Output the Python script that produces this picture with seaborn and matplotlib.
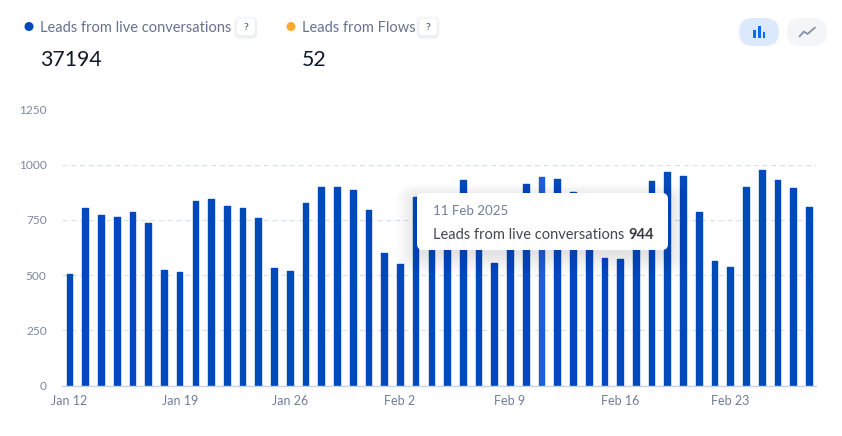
import matplotlib
matplotlib.use("Agg")
import matplotlib.pyplot as plt
import seaborn as sns
import pandas as pd
from matplotlib.patches import FancyBboxPatch, Circle, Rectangle

days = pd.date_range("2025-01-12", "2025-02-28").strftime("%b %-d").tolist()
live_leads = [505, 804, 772, 763, 786, 736, 523, 514, 835, 845, 813, 804,
              759, 532, 519, 827, 899, 899, 885, 795, 600, 550, 854, 865,
              850, 930, 780, 555, 760, 912, 944, 935, 876, 800, 577, 572,
              790, 926, 967, 949, 786, 564, 537, 899, 975, 931, 894, 808]
highlight_day = "Feb 11"
y_ticks = [0, 250, 500, 750, 1000, 1250]
x_tick_labels = ["Jan 12", "Jan 19", "Jan 26", "Feb 2", "Feb 9", "Feb 16", "Feb 23"]
summary_titles = ["Leads from live conversations", "Leads from Flows"]
summary_values = ["37194", "52"]
tooltip_date = "11 Feb 2025"
tooltip_label = "Leads from live conversations"
tooltip_value = "944"

sns.set_theme(style="white")
plt.rcParams["font.family"] = ["Lato", "DejaVu Sans"]

W, H = 842, 436
fig = plt.figure(figsize=(W / 100, H / 100), dpi=100, facecolor="white")
ax = fig.add_axes([62 / W, 1 - 385.5 / H, (816 - 62) / W, (385.5 - 109.5) / H])

df = pd.DataFrame({"day": days, "leads": live_leads})
BLUE, LIGHT = "#0049BC", "#1A60D2"
palette = {d: (LIGHT if d == highlight_day else BLUE) for d in days}
sns.barplot(data=df, x="day", y="leads", hue="day", palette=palette, legend=False,
            ax=ax, width=0.36, saturation=1, zorder=3)
for bar in ax.patches:
    bar.set_edgecolor(bar.get_facecolor())
    bar.set_linewidth(1.0)
    bar.set_joinstyle("round")

ax.set_xlim(-0.477, 47.45)
ax.set_ylim(0, 1250)
ax.set_yticks(y_ticks)
ax.set_yticklabels([str(v) for v in y_ticks], fontsize=8.6, color="#7C88A1")
tick_pos = [days.index(d) for d in x_tick_labels]
ax.set_xticks(tick_pos)
ax.set_xticklabels(x_tick_labels, fontsize=9, color="#6F7D99")
ax.tick_params(axis="both", length=0)
ax.tick_params(axis="x", pad=7)
ax.tick_params(axis="y", pad=11)
ax.set_xlabel("")
ax.set_ylabel("")
ax.grid(axis="y", color="#DCE1E8", linestyle=(0, (4, 3)), linewidth=0.9, zorder=0)
ax.grid(axis="x", visible=False)
ax.set_axisbelow(True)
for side in ["top", "right", "left"]:
    ax.spines[side].set_visible(False)
ax.spines["bottom"].set_color("#C9D2E6")
ax.spines["bottom"].set_linewidth(1)
ax.spines["bottom"].set_zorder(4)

# overlay in pixel coordinates for the interface pieces
ov = fig.add_axes([0, 0, 1, 1], facecolor="none")
ov.set_xlim(0, W)
ov.set_ylim(H, 0)
ov.axis("off")


def rbox(x0, y0, x1, y1, r, **kw):
    p = FancyBboxPatch((x0 + r, y0 + r), x1 - x0 - 2 * r, y1 - y0 - 2 * r,
                       boxstyle=f"round,pad={r},rounding_size={r}", linewidth=kw.pop("lw", 0), **kw)
    ov.add_patch(p)
    return p


# header
dot_colors = ["#0049BC", "#FFA92E"]
for x_dot, x_txt, x_q, title, value, c in zip([29, 291], [40, 302], [237, 419],
                                             summary_titles, summary_values, dot_colors):
    ov.add_patch(Circle((x_dot, 26.5), 4.5, color=c, lw=0))
    ov.text(x_txt, 27.5, title, fontsize=10.55, color="#66728F", va="center", ha="left")
    ov.text(x_txt, 60.5, value, fontsize=15.3, color="#111827", va="center", ha="left")
    for k in range(4):
        rbox(x_q - k, 18.5 - k + 1, x_q + 18 + k, 35.5 + k + 1, 3 + k, fc="#5A6A8A", alpha=0.035)
    rbox(x_q, 18.5, x_q + 18, 35.5, 3, fc="white")
    ov.text(x_q + 9, 27, "?", fontsize=7.5, color="#5C6A86", weight="bold", va="center", ha="center")

# toggle buttons
rbox(739, 18, 779, 46, 14, fc="#DCE9FD")
rbox(787, 18, 827, 46, 14, fc="#F4F5F7")
for x0, top, in [(753, 30), (758, 26), (762.5, 32.5)]:
    ov.add_patch(Rectangle((x0, top), 2.8, 38 - top, color="#0B6BF2", lw=0))
ov.plot([799.5, 804, 807.5, 815], [36.5, 31.5, 34, 27.5], color="#8592A8", lw=1.3,
        solid_joinstyle="round", solid_capstyle="round")

# tooltip
for k in range(14):
    rbox(417 - k * 1.6, 193 - k * 1.1 + 5, 668 + k * 1.6, 250 + k * 1.6 + 4, 5 + k, fc="#334155", alpha=0.009)
rbox(417, 193, 668, 250, 6, fc="white")
ov.text(433, 211, tooltip_date, fontsize=9.6, color="#717E9C", va="center", ha="left")
t = ov.text(433, 235, tooltip_label, fontsize=10.5, color="#44474D", va="center", ha="left")
fig.canvas.draw()
bb = t.get_window_extent()
ov.text(433 + bb.width + 4, 235, tooltip_value, fontsize=10.5, color="#3A3C40", weight="bold", va="center", ha="left")

fig.savefig("out.png", dpi=100, facecolor="white")
